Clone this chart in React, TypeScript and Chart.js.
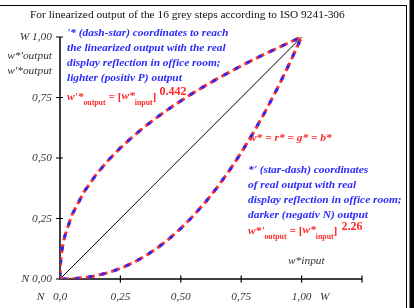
import React, { useEffect, useRef } from "react";
import { Chart, registerables } from "chart.js";

Chart.register(...registerables);

// ---- data ----
const xInput = [0, 0.001, 0.002, 0.005, 0.01, 0.02, 0.05, 0.1, 0.15, 0.2, 0.25, 0.3, 0.35, 0.4, 0.45, 0.5, 0.55, 0.6, 0.65, 0.7, 0.75, 0.8, 0.85, 0.9, 0.95, 1.0];
const yLighter = [0, 0.047, 0.064, 0.096, 0.131, 0.178, 0.266, 0.361, 0.432, 0.491, 0.542, 0.587, 0.629, 0.667, 0.703, 0.736, 0.768, 0.798, 0.827, 0.854, 0.881, 0.906, 0.931, 0.954, 0.978, 1.0];
const yDarker = [0, 0, 0, 0, 0, 0.0001, 0.0012, 0.0055, 0.0137, 0.0263, 0.0436, 0.0658, 0.0933, 0.1261, 0.1645, 0.2088, 0.259, 0.3152, 0.3777, 0.4466, 0.522, 0.6039, 0.6926, 0.7881, 0.8905, 1.0];
const diagX = [0, 1];
const diagY = [0, 1];

const xTicks = [0, 0.25, 0.5, 0.75, 1.0, 1.25];
const xTickLabels = ["0,0", "0,25", "0,50", "0,75", "1,00", ""];
const xTickPrefix = ["N   ", "", "", "", "", ""];
const xTickSuffix = ["", "", "", "", "   W", ""];
const yTicks = [0, 0.25, 0.5, 0.75, 1.0];
const yTickLabels = ["N 0,00", "0,25", "0,50", "0,75", "W 1,00"];

const titleText = "For linearized output of the 16 grey steps according to ISO 9241-306";
const yAxisTitle = ["w*'output", "w'*output"];
const xAxisTitle = "w*input";
const blueTop = [
  "'* (dash-star) coordinates to reach",
  "the linearized output with the real",
  "display reflection in office room;",
  "lighter (positiv P) output",
];
const blueBottom = [
  "*' (star-dash) coordinates",
  "of real output with real",
  "display reflection in office room;",
  "darker (negativ N) output",
];
const equalText = "w* = r* = g* = b*";
const exponentLighter = "0.442";
const exponentDarker = "2.26";

const SERIF = "'Liberation Serif', 'Times New Roman', serif";
const RED = "#ff2a2a";
const BLUE = "#2a2aff";

function pts(xs: number[], ys: number[]) {
  return xs.map((x, i) => ({ x, y: ys[i] }));
}

type Seg = { t: string; f: string; dy: number; gap?: number };

function drawSegs(ctx: CanvasRenderingContext2D, segs: Seg[], x: number, y: number) {
  let cx = x;
  for (const s of segs) {
    ctx.font = s.f;
    ctx.fillText(s.t, cx, y + s.dy);
    cx += ctx.measureText(s.t).width + (s.gap || 0);
  }
}

const decorPlugin = {
  id: "decor",
  beforeDatasetsDraw(chart: any) {
    const ctx: CanvasRenderingContext2D = chart.ctx;
    const xs = chart.scales.x;
    const ys = chart.scales.y;
    const x0 = xs.getPixelForValue(0);
    const y0 = ys.getPixelForValue(0);
    ctx.save();
    // frame
    ctx.strokeStyle = "#000";
    ctx.lineWidth = 1;
    ctx.beginPath();
    ctx.moveTo(0, 5.5);
    ctx.lineTo(407, 5.5);
    ctx.moveTo(406.5, 5);
    ctx.lineTo(406.5, 308);
    ctx.stroke();
    ctx.fillStyle = "#000";
    ctx.fillRect(409.5, 0, 5, 308);

    // title
    ctx.fillStyle = "#111";
    ctx.font = `11.4px ${SERIF}`;
    ctx.textBaseline = "middle";
    ctx.textAlign = "left";
    ctx.fillText(titleText, 30, 15);

    // axes
    ctx.lineWidth = 1.5;
    ctx.strokeStyle = "#000";
    ctx.beginPath();
    ctx.moveTo(x0, ys.getPixelForValue(1));
    ctx.lineTo(x0, y0);
    ctx.lineTo(xs.getPixelForValue(1.25), y0);
    ctx.stroke();
    ctx.lineWidth = 1.2;
    ctx.beginPath();
    yTicks.forEach((v) => {
      const py = ys.getPixelForValue(v);
      ctx.moveTo(x0 - 4, py);
      ctx.lineTo(v === 0 ? x0 : x0 + 3, py);
    });
    xTicks.forEach((v) => {
      const px = xs.getPixelForValue(v);
      if (v === 0) return;
      ctx.moveTo(px, y0 - 3.5);
      ctx.lineTo(px, y0 + 3.5);
    });
    ctx.stroke();

    // tick labels
    ctx.fillStyle = "#333";
    ctx.font = `italic 11.4px ${SERIF}`;
    ctx.textAlign = "right";
    yTicks.forEach((v, i) => {
      ctx.fillText(yTickLabels[i], x0 - 8, ys.getPixelForValue(v));
    });
    ctx.fillText(yAxisTitle[0], x0 - 8, 56);
    ctx.fillText(yAxisTitle[1], x0 - 8, 71);
    xTicks.forEach((v, i) => {
      if (!xTickLabels[i]) return;
      const px = xs.getPixelForValue(v);
      const ty = 297;
      ctx.textAlign = "center";
      ctx.fillText(xTickLabels[i], px, ty);
      const w = ctx.measureText(xTickLabels[i]).width;
      if (xTickPrefix[i]) {
        ctx.textAlign = "right";
        ctx.fillText(xTickPrefix[i], px - w / 2, ty);
      }
      if (xTickSuffix[i]) {
        ctx.textAlign = "left";
        ctx.fillText(xTickSuffix[i], px + w / 2, ty);
      }
    });
    ctx.textAlign = "left";
    ctx.fillText(xAxisTitle, 288, 261);

    // blue annotations
    ctx.fillStyle = BLUE;
    ctx.font = `bold italic 11.4px ${SERIF}`;
    blueTop.forEach((s, i) => ctx.fillText(s, 67, 33 + i * 15));
    blueBottom.forEach((s, i) => ctx.fillText(s, 248, 170 + i * 15));

    // red annotations
    ctx.fillStyle = RED;
    ctx.font = `bold italic 11.4px ${SERIF}`;
    ctx.fillText(equalText, 249, 138);
    drawSegs(ctx, [
      { t: "w'*", f: `bold italic 11.4px ${SERIF}`, dy: 0 },
      { t: "output", f: `bold 7.8px ${SERIF}`, dy: 6 },
      { t: " = [", f: `bold 11.4px ${SERIF}`, dy: 0 },
      { t: "w*", f: `bold italic 11.4px ${SERIF}`, dy: -1 },
      { t: "input", f: `bold 7.8px ${SERIF}`, dy: 6 },
      { t: "]", f: `bold 11.4px ${SERIF}`, dy: 0, gap: 3 },
      { t: exponentLighter, f: `bold 12px ${SERIF}`, dy: -5 },
    ], 67, 97);
    drawSegs(ctx, [
      { t: "w*'", f: `bold italic 11.4px ${SERIF}`, dy: 0 },
      { t: "output", f: `bold 7.8px ${SERIF}`, dy: 6 },
      { t: " = [", f: `bold 11.4px ${SERIF}`, dy: 0 },
      { t: "w*", f: `bold italic 11.4px ${SERIF}`, dy: -1 },
      { t: "input", f: `bold 7.8px ${SERIF}`, dy: 6 },
      { t: "]", f: `bold 11.4px ${SERIF}`, dy: 0, gap: 4 },
      { t: exponentDarker, f: `bold 12px ${SERIF}`, dy: -4 },
    ], 248, 231);
    ctx.restore();
  },
};

export default function App() {
  const ref = useRef<HTMLCanvasElement | null>(null);
  useEffect(() => {
    document.body.style.margin = "0";
    const canvas = ref.current;
    if (!canvas) return;
    const curve = (data: any, color: string, dash: number[], offset: number, order: number) => ({
      data,
      borderColor: color,
      borderWidth: 3,
      borderDash: dash,
      borderDashOffset: offset,
      pointRadius: 0,
      fill: false,
      tension: 0,
      showLine: true,
      order,
    });
    const chart = new Chart(canvas, {
      type: "scatter",
      data: {
        datasets: [
          { data: pts(diagX, diagY), borderColor: "#000", borderWidth: 1, pointRadius: 0, showLine: true, fill: false, order: 10 } as any,
          curve(pts(xInput, yLighter), RED, [9, 4], 0, 5),
          curve(pts(xInput, yLighter), BLUE, [4, 9], -2.5, 1),
          curve(pts(xInput, yDarker), RED, [9, 4], 0, 5),
          curve(pts(xInput, yDarker), BLUE, [4, 9], -2.5, 1),
        ],
      },
      options: {
        animation: false,
        responsive: false,
        devicePixelRatio: 1,
        layout: { padding: { left: 60, top: 37, right: 52, bottom: 29 } },
        plugins: { legend: { display: false }, tooltip: { enabled: false } },
        scales: {
          x: { type: "linear", min: 0, max: 1.25, display: false },
          y: { type: "linear", min: 0, max: 1, display: false },
        },
      },
      plugins: [decorPlugin as any],
    });
    return () => chart.destroy();
  }, []);
  return (
    <div style={{ width: 414, height: 308, background: "#fff" }}>
      <canvas ref={ref} width={414} height={308} style={{ display: "block", width: 414, height: 308 }} />
    </div>
  );
}
